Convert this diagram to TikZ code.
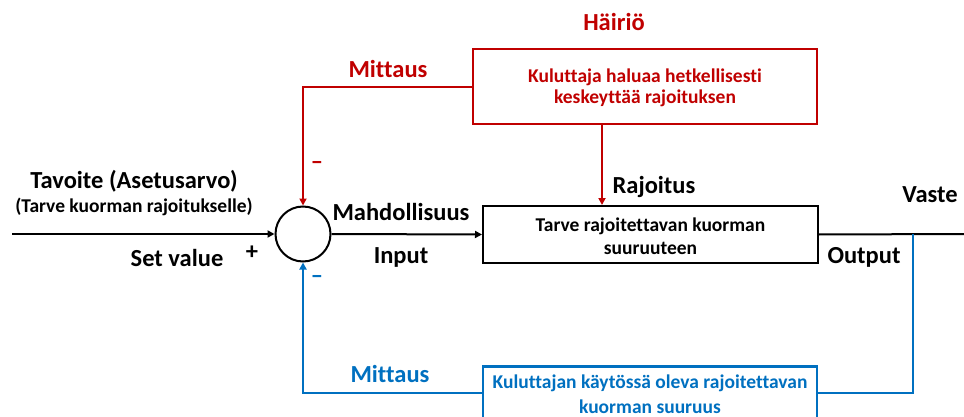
\documentclass[tikz,border=0pt]{standalone}
\usepackage{fontspec}
\setmainfont[Ligatures={NoCommon}]{Carlito}
\usetikzlibrary{arrows.meta}
\definecolor{cred}{RGB}{192,0,0}
\definecolor{cblue}{RGB}{0,112,192}
\tikzset{
  lbl/.style={font=\fontsize{24.5}{28}\selectfont\bfseries, inner sep=0pt},
  sub/.style={font=\fontsize{19.5}{23}\selectfont\bfseries, inner sep=0pt},
  boxtxt/.style={font=\fontsize{19.5}{23}\selectfont\bfseries, align=center, inner sep=0pt},
  conn/.style={line width=2pt, -{Triangle[width=7pt,length=7pt]}},
  wire/.style={line width=2pt},
}
\begin{document}
\begin{tikzpicture}[x=1pt,y=-1pt]
\useasboundingbox (0,0) rectangle (964,417);
% sum junction
\node[circle, draw, line width=2pt, minimum size=55pt, inner sep=0pt] (sum) at (303,234) {};
% main block
\node[draw, line width=2pt, minimum width=335pt, minimum height=57pt, inner sep=0pt] (plant) at (650.5,234.5) {};
\node[boxtxt] (plantt) at (650.5,236.5) {Tarve rajoitettavan kuorman\\suuruuteen};
% disturbance box
\node[draw=cred, line width=2.5pt, minimum width=344pt, minimum height=75pt, inner sep=0pt] (dist) at (645,86.5) {};
\node[boxtxt, text=cred, font=\fontsize{19.5}{21}\selectfont\bfseries] (distt) at (645,88) {Kuluttaja haluaa hetkellisesti\\keskeyttää rajoituksen};
% measurement box (blue)
\node[draw=cblue, line width=2.5pt, minimum width=334pt, minimum height=80pt, inner sep=0pt, anchor=north] (meas) at (650,365) {};
\node[boxtxt, text=cblue, font=\fontsize{19.5}{25}\selectfont\bfseries] (meast) at (650,394.5) {Kuluttajan käytössä oleva rajoitettavan\\kuorman suuruus};

% coordinates
\coordinate (inL) at (12,234);
\coordinate (outR) at (964,234);
\coordinate (tap) at (913,234);
\coordinate (redc) at (303,87);
\coordinate (redd) at (602,124);
\coordinate (bluec1) at (913,393);
\coordinate (bluec2) at (303,393);

% connectors
\draw[conn] (inL) -- (sum.west);
\draw[conn] (sum.east) -- (plant.west);
\draw[wire] (plant.east) -- (outR);
\draw[conn, cred, line width=2.5pt] (dist.west |- redc) -- (redc) -- (sum.north);
\draw[conn, cred, line width=2.5pt] (redd) -- (plant.north -| redd);
\draw[wire, cblue, line width=2.5pt] (tap) -- (bluec1) -- (meas.east |- bluec1);
\draw[conn, cblue, line width=2.5pt] (meas.west |- bluec2) -- (bluec2) -- (sum.south);

% labels
\node[lbl, text=cred] (hairio) at (614,22) {Häiriö};
\node[lbl, text=cred] (mittr) at (388,69) {Mittaus};
\node[lbl, text=cred] (minr) at (317,165) {--};
\node[lbl] (rajo) at (654,187) {Rajoitus};
\node[lbl] (tav) at (134,181) {Tavoite (Asetusarvo)};
\node[sub] (tarve) at (134,207) {(Tarve kuorman rajoitukselle)};
\node[lbl] (setv) at (177,258) {Set value};
\node[lbl] (plus) at (252,253) {+};
\node[lbl] (mahd) at (401,212) {Mahdollisuus};
\node[lbl] (inp) at (401,257) {Input};
\node[lbl] (outp) at (864,257) {Output};
\node[lbl] (vaste) at (930,195) {Vaste};
\node[lbl, text=cblue] (minb) at (317,279) {--};
\node[lbl, text=cblue] (mittb) at (390,374) {Mittaus};
\end{tikzpicture}
\end{document}
